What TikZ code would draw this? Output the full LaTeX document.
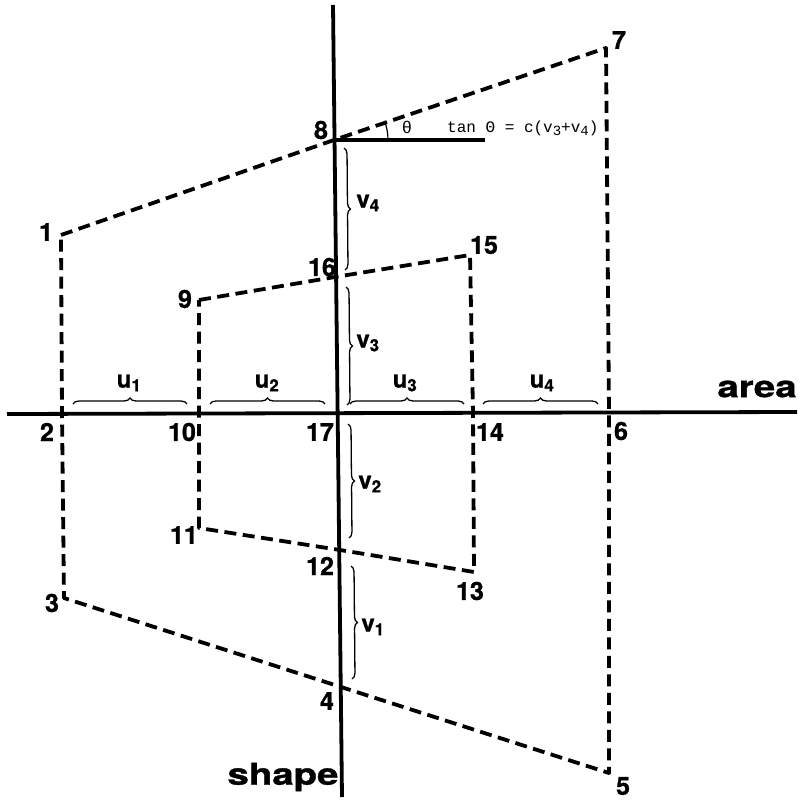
\documentclass[tikz,border=0pt]{standalone}
\usepackage{fontspec}
\setmainfont{TeX Gyre Heros}
\setmonofont{Liberation Mono}
\newfontfamily\heavyfont{texgyreheros-bold.otf}[FakeBold=1.0]
\usetikzlibrary{decorations.pathreplacing}
\tikzset{
  axisline/.style={line width=3.8pt},
  dashline/.style={line width=3.8pt, dash pattern=on 12pt off 6.5pt, line join=round},
  num/.style={font=\fontsize{25}{25}\heavyfont, inner sep=0pt},
  bigword/.style={font=\fontsize{30}{30}\heavyfont, inner sep=0pt, xscale=1.28},
  var/.style={font=\fontsize{24}{24}\heavyfont, inner sep=0pt},
  bracestyle/.style={line width=1.3pt, decorate, decoration={brace, amplitude=6pt}},
  mono/.style={font=\fontsize{16}{16}\selectfont\ttfamily, inner sep=0pt, anchor=base west}
}
\begin{document}
\begin{tikzpicture}[x=1pt,y=-1pt]
\useasboundingbox (0,0) rectangle (802,802);
% axes
\coordinate (vtop) at (333,5);
\coordinate (vbot) at (342,797);
\coordinate (hl) at (7,414);
\coordinate (hr) at (797,412);
\draw[axisline] (vtop) -- (vbot);
\draw[axisline] (hl) -- (hr);
% outer points
\coordinate (p1) at (61,235);
\coordinate (p2) at (62,413);
\coordinate (p3) at (64,598);
\coordinate (p4) at (341,687);
\coordinate (p5) at (609,773);
\coordinate (p6) at (609,413);
\coordinate (p7) at (606,48);
\coordinate (p8) at (334,140);
% inner points
\coordinate (p9) at (199,300);
\coordinate (p10) at (199,413);
\coordinate (p11) at (199,528);
\coordinate (p12) at (340,550);
\coordinate (p13) at (474,572);
\coordinate (p14) at (473,413);
\coordinate (p15) at (470,255);
\coordinate (p16) at (335,277);
\coordinate (p17) at (338,413);
\draw[dashline] (p1) -- (p8) -- (p7) -- (p6) -- (p5) -- (p4) -- (p3) -- (p2) -- cycle;
\draw[dashline] (p9) -- (p16) -- (p15) -- (p14) -- (p13) -- (p12) -- (p11) -- (p10) -- cycle;
% theta construction
\coordinate (hend) at (485,140);
\draw[axisline] (p8) -- (hend);
\draw[line width=1.2pt] (p8) ++(54,0) arc[start angle=0, end angle=-18.7, radius=54];
\node[font=\fontsize{17}{17}\selectfont\ttfamily, inner sep=0pt] (theta) at (407,127) {θ};
\node[mono] (tanlabel) at (447,133) {tan Θ = c(v\raisebox{-3pt}{\fontsize{14}{14}\selectfont 3}+v\raisebox{-3pt}{\fontsize{14}{14}\selectfont 4})};
% number labels
\node[num] (l1) at (46,232) {1};
\node[num] (l2) at (47,432) {2};
\node[num] (l3) at (52,603) {3};
\node[num] (l4) at (327,701) {4};
\node[num] (l5) at (623,786) {5};
\node[num] (l6) at (621,431) {6};
\node[num] (l7) at (619,40) {7};
\node[num] (l8) at (321,130) {8};
\node[num] (l9) at (185,299) {9};
\node[num] (l10) at (182,432) {10};
\node[num] (l11) at (184,535) {11};
\node[num] (l12) at (320,566) {12};
\node[num] (l13) at (470,591) {13};
\node[num] (l14) at (490,432) {14};
\node[num] (l15) at (484,245) {15};
\node[num] (l16) at (322,267) {16};
\node[num] (l17) at (320,432) {17};
% words
\node[bigword] (area) at (757,389) {area};
\node[bigword] (shape) at (283,777) {shape};
% u braces
\draw[bracestyle] (73,404) -- (187,404);
\draw[bracestyle] (210,404) -- (325,404);
\draw[bracestyle] (350,404) -- (464,404);
\draw[bracestyle] (483,404) -- (598,404);
\node[var] (u1) at (129,383) {u\textsubscript{1}};
\node[var] (u2) at (267,383) {u\textsubscript{2}};
\node[var] (u3) at (405,383) {u\textsubscript{3}};
\node[var] (u4) at (542,383) {u\textsubscript{4}};
% v braces
\draw[bracestyle] (344,148) -- (345,270);
\draw[bracestyle] (346,287) -- (347,405);
\draw[bracestyle] (348,424) -- (349,538);
\draw[bracestyle] (351,566) -- (352,679);
\node[var] (v4) at (368,203) {v\textsubscript{4}};
\node[var] (v3) at (368,343) {v\textsubscript{3}};
\node[var] (v2) at (370,484) {v\textsubscript{2}};
\node[var] (v1) at (373,627) {v\textsubscript{1}};
\end{tikzpicture}
\end{document}
